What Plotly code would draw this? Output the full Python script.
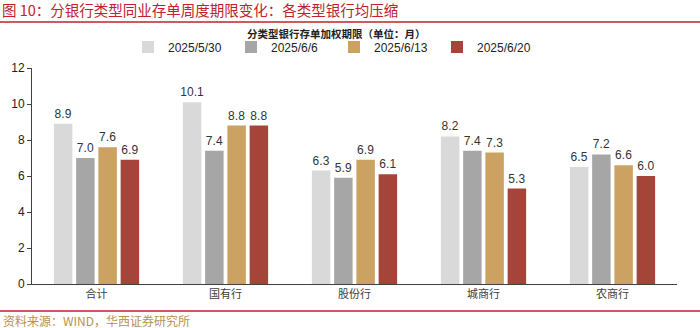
import plotly.graph_objects as go

categories = ["合计", "国有行", "股份行", "城商行", "农商行"]
series_names = ["2025/5/30", "2025/6/6", "2025/6/13", "2025/6/20"]
s_0530 = [8.9, 10.1, 6.3, 8.2, 6.5]
s_0606 = [7.0, 7.4, 5.9, 7.4, 7.2]
s_0613 = [7.6, 8.8, 6.9, 7.3, 6.6]
s_0620 = [6.9, 8.8, 6.1, 5.3, 6.0]
series_values = [s_0530, s_0606, s_0613, s_0620]
colors = ["#d9d9d9", "#a6a6a6", "#cca263", "#a5453a"]
y_ticks = [0, 2, 4, 6, 8, 10, 12]

W, H = 700, 328
ML, MR, MT, MB = 32, 23, 68, 44

fig = go.Figure()
for name, vals, c in zip(series_names, series_values, colors):
    fig.add_trace(go.Bar(
        x=categories, y=vals, name=name, marker=dict(color=c, line=dict(width=0)),
        text=[f"{v:.1f}" for v in vals], textposition="outside", constraintext="none",
        textfont=dict(family="Liberation Sans, Arial", size=12, color="#333333"),
        cliponaxis=False,
    ))

def py(px):
    return 1 - (px - MT) / (H - MT - MB)

def px_x(px):
    return (px - ML) / (W - ML - MR)

fig.update_layout(
    width=W, height=H,
    margin=dict(l=ML, r=MR, t=MT, b=MB),
    paper_bgcolor="white", plot_bgcolor="white",
    barmode="group", bargap=0.31, bargroupgap=0.17,
    showlegend=True,
    legend=dict(orientation="h", x=px_x(128), y=py(47), xanchor="left", yanchor="middle",
                font=dict(family="Liberation Sans, Arial", size=12, color="#222222"),
                itemwidth=30, entrywidth=58, entrywidthmode="pixels",
                bgcolor="rgba(0,0,0,0)", traceorder="normal"),
    xaxis=dict(showline=True, linecolor="#404040", linewidth=1, ticks="",
               tickfont=dict(family="Noto Sans CJK SC", size=11, color="#404040"),
               showgrid=False),
    yaxis=dict(range=[0, 12], tickvals=y_ticks, showline=True, linecolor="#404040", linewidth=1,
               ticks="outside", ticklen=4, tickcolor="#404040", showgrid=False, zeroline=False,
               tickfont=dict(family="Liberation Sans, Arial", size=12, color="#222222")),
    font=dict(family="Liberation Sans, Arial"),
    annotations=[
        dict(text="图 10：分银行类型同业存单周度期限变化：各类型银行均压缩", xref="paper", yref="paper",
             x=px_x(0), y=py(10), xanchor="left", yanchor="middle", showarrow=False,
             font=dict(family="Noto Sans CJK SC", size=14.5, color="#c0212b")),
        dict(text="<b>分类型银行存单加权期限（单位：月）</b>", xref="paper", yref="paper",
             x=px_x(336), y=py(33), xanchor="center", yanchor="middle", showarrow=False,
             font=dict(family="Noto Sans CJK SC", size=10.5, color="#222222")),
        dict(text="资料来源：WIND，华西证券研究所", xref="paper", yref="paper",
             x=px_x(1), y=py(320), xanchor="left", yanchor="middle", showarrow=False,
             font=dict(family="Noto Sans CJK SC", size=12, color="#b8914f")),
    ],
    shapes=[
        dict(type="line", xref="paper", yref="paper", x0=px_x(0), x1=px_x(700), y0=py(22), y1=py(22),
             line=dict(color="#c0212b", width=1.5)),
        dict(type="line", xref="paper", yref="paper", x0=px_x(0), x1=px_x(700), y0=py(311), y1=py(311),
             line=dict(color="#c0212b", width=1.5)),
    ],
)

fig.write_html("out.html")
